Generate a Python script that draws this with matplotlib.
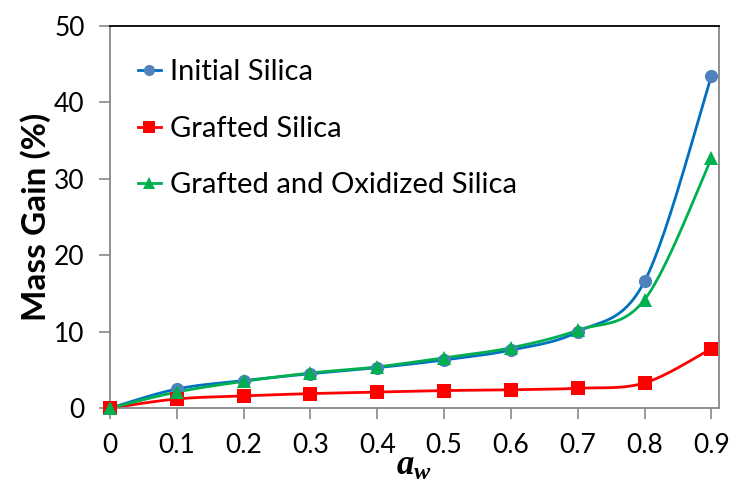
import numpy as np
import matplotlib
matplotlib.use('Agg')
from matplotlib import pyplot as plt

aw = [0, 0.1, 0.2, 0.3, 0.4, 0.5, 0.6, 0.7, 0.8, 0.9]
initial = [0, 2.5, 3.6, 4.5, 5.3, 6.3, 7.6, 10.0, 16.6, 43.5]
grafted = [0, 1.2, 1.6, 1.9, 2.1, 2.3, 2.4, 2.6, 3.3, 7.8]
oxidized = [0, 2.1, 3.5, 4.6, 5.4, 6.6, 7.9, 10.2, 14.2, 32.7]


def smooth(x, y, n=30):
    # excel-like smoothed line: bezier segments with catmull-rom control points
    p = np.column_stack([x, y]).astype(float)
    p = np.vstack([p[0], p, p[-1]])
    t = np.linspace(0, 1, n)[:, None]
    out = []
    for i in range(1, len(p) - 2):
        p0, p1, p2, p3 = p[i - 1], p[i], p[i + 1], p[i + 2]
        c1 = p1 + (p2 - p0) / 6
        c2 = p2 - (p3 - p1) / 6
        seg = ((1 - t) ** 3) * p1 + 3 * ((1 - t) ** 2) * t * c1 + 3 * (1 - t) * t ** 2 * c2 + t ** 3 * p2
        out.append(seg)
    out = np.vstack(out)
    return out[:, 0], out[:, 1]


plt.rcParams['font.family'] = ['Lato', 'DejaVu Sans']
plt.rcParams['mathtext.fontset'] = 'custom'
plt.rcParams['mathtext.it'] = 'Liberation Serif:italic:bold'
plt.rcParams['mathtext.rm'] = 'Liberation Serif:bold'

fig = plt.figure(figsize=(7.32, 4.83), dpi=100)
ax = fig.add_axes([0.150, 0.155, 0.832, 0.791])

series = [
    ('Initial Silica', initial, '#0070C0', '#4F81BD', 'o', 9.5),
    ('Grafted Silica', grafted, '#FF0000', '#FF0000', 's', 9.5),
    ('Grafted and Oxidized Silica', oxidized, '#00B050', '#00B050', '^', 10),
]
for label, vals, lc, mc, mk, ms in series:
    sx, sy = smooth(aw, vals)
    ax.plot(sx, sy, color=lc, lw=2, zorder=2)
    ax.plot(aw, vals, linestyle='none', marker=mk, markersize=ms,
            color=mc, markeredgewidth=0, zorder=3, clip_on=False)
    ax.plot([], [], color=lc, lw=2, marker=mk, markersize=8,
            markerfacecolor=mc, markeredgewidth=0, label=label)

ax.set_xlim(0, 0.911)
ax.set_ylim(0, 50)
ax.set_xticks(aw)
ax.set_xticklabels(['0'] + [f'{v:.1f}' for v in aw[1:]])
ax.set_yticks(range(0, 51, 10))

for s in ['left', 'bottom', 'right']:
    ax.spines[s].set_color('#878787')
    ax.spines[s].set_linewidth(1.3)
ax.spines['top'].set_color('black')
ax.spines['top'].set_linewidth(1.3)

ax.tick_params(axis='x', direction='out', length=8, width=1.2, color='#878787',
               labelsize=19, pad=10)
ax.tick_params(axis='y', direction='out', length=8, width=1.2, color='#878787',
               labelsize=19, pad=10)

ax.set_ylabel('Mass Gain (%)', fontsize=24, fontweight='bold', labelpad=2)
ax.set_xlabel(r'$a_w$', fontsize=25, labelpad=-6)

leg = ax.legend(loc='upper left', bbox_to_anchor=(0.012, 0.967), frameon=False,
                fontsize=21, handlelength=0.8, handletextpad=0.3, labelspacing=1.05,
                borderaxespad=0.3)

fig.savefig('out.png', dpi=100)
